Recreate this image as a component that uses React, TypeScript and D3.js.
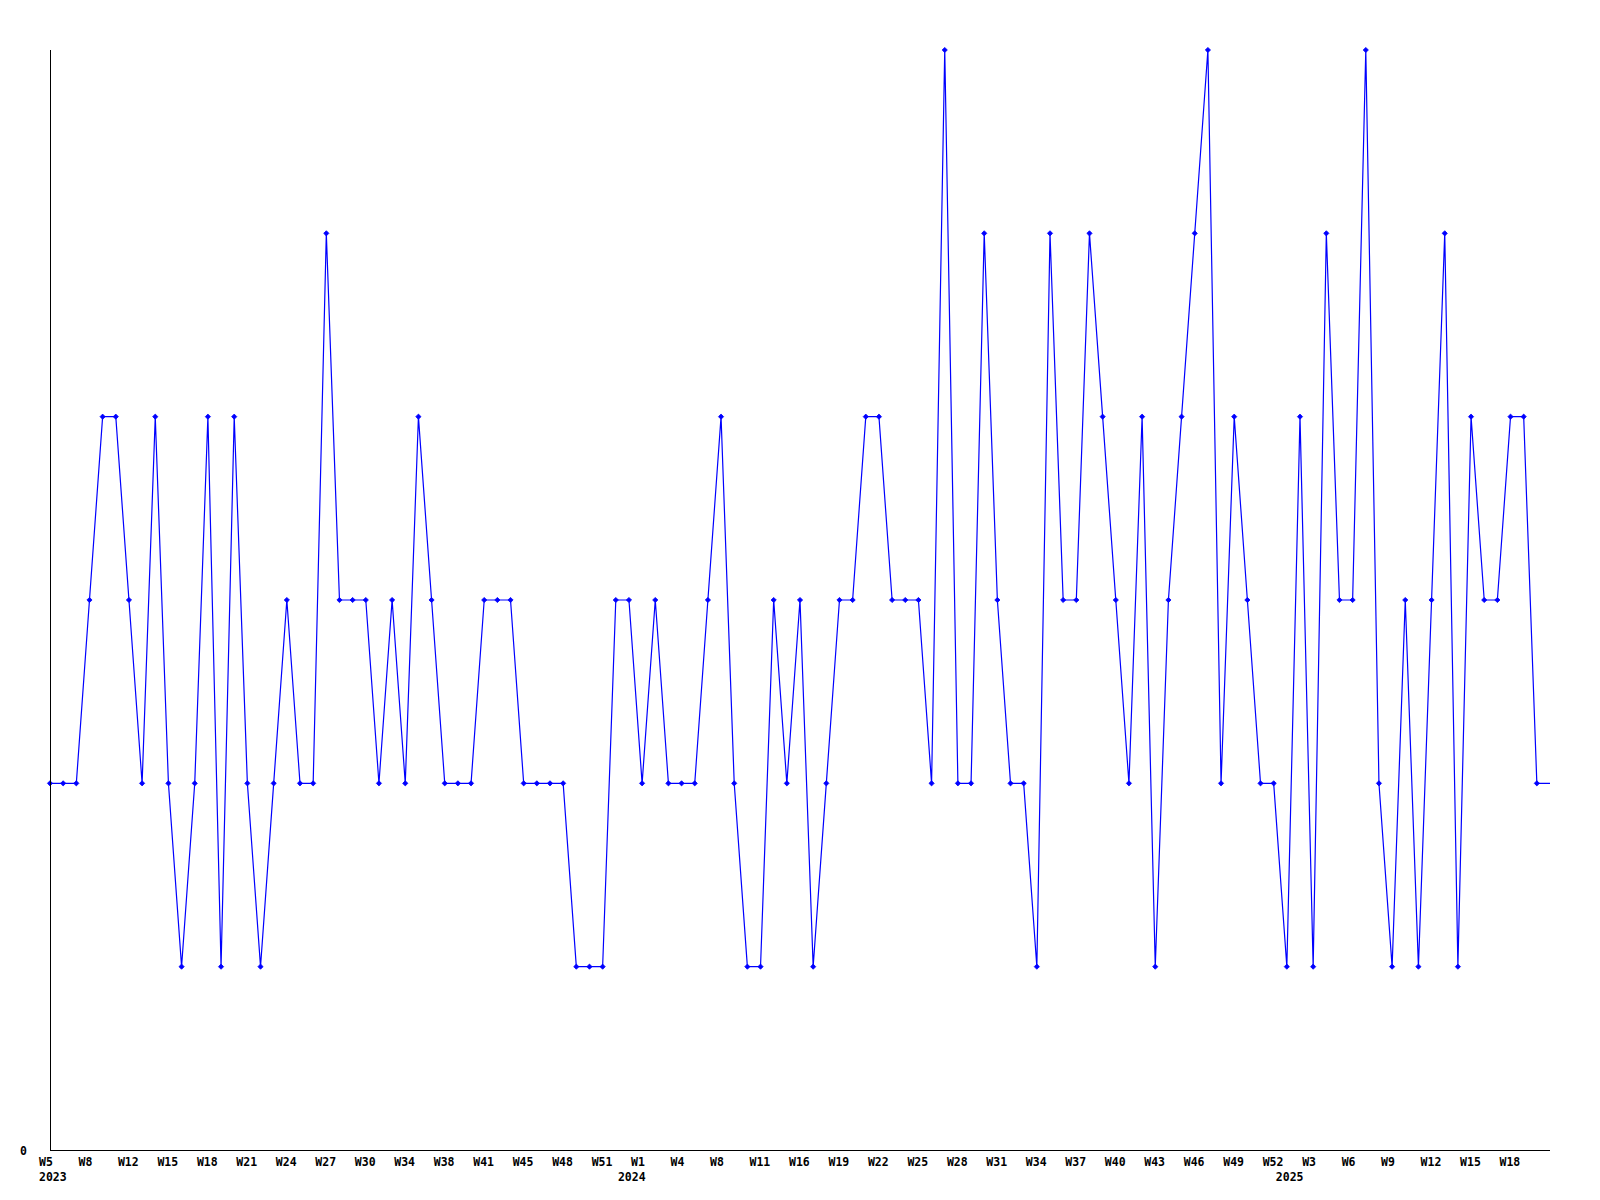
import React from "react";
import * as d3 from "d3";

const values: number[] = [
  2, 2, 2, 3, 4, 4, 3, 2, 4, 2,
  1, 2, 4, 1, 4, 2, 1, 2, 3, 2,
  2, 5, 3, 3, 3, 2, 3, 2, 4, 3,
  2, 2, 2, 3, 3, 3, 2, 2, 2, 2,
  1, 1, 1, 3, 3, 2, 3, 2, 2, 2,
  3, 4, 2, 1, 1, 3, 2, 3, 1, 2,
  3, 3, 4, 4, 3, 3, 3, 2, 6, 2,
  2, 5, 3, 2, 2, 1, 5, 3, 3, 5,
  4, 3, 2, 4, 1, 3, 4, 5, 6, 2,
  4, 3, 2, 2, 1, 4, 1, 5, 3, 3,
  6, 2, 1, 3, 1, 3, 5, 1, 4, 3,
  3, 4, 4, 2,
];

const weekTicks: string[] = [
  "W5", "W8", "W12", "W15", "W18", "W21", "W24", "W27", "W30", "W34",
  "W38", "W41", "W45", "W48", "W51", "W1", "W4", "W8", "W11", "W16",
  "W19", "W22", "W25", "W28", "W31", "W34", "W37", "W40", "W43", "W46",
  "W49", "W52", "W3", "W6", "W9", "W12", "W15", "W18",
];
const tickEvery = 3;

const yearLabels: string[] = ["2023", "2024", "2025"];
const yearIndex: number[] = [0, 44, 94];

const yMax = 6;
const yTickLabels: number[] = [0];

const W = 1600;
const H = 1200;
const margin = { left: 50, right: 50, top: 50, bottom: 50 };

const FONT = "'DejaVu Sans Mono', monospace";

export default function App() {
  const n = values.length;
  const x = d3.scaleLinear().domain([0, n]).range([margin.left, W - margin.right]);
  const y = d3.scaleLinear().domain([0, yMax]).range([H - margin.bottom, margin.top]);

  const pts: [number, number][] = values.map((v, i) => [i, v]);
  const extended: [number, number][] = [...pts, [n, values[n - 1]]];
  const line = d3
    .line<[number, number]>()
    .x((d) => x(d[0]))
    .y((d) => y(d[1]));

  const x0 = x(0);
  const y0 = y(0);

  return (
    <svg
      width={W}
      height={H}
      style={{ position: "absolute", left: 0, top: 0, background: "#fff" }}
    >
      <rect x={0} y={0} width={W} height={H} fill="#fff" />
      <path d={line(extended) || ""} fill="none" stroke="#0000ff" strokeWidth={1.2} />
      {pts.map(([i, v]) => {
        const cx = x(i);
        const cy = y(v);
        const r = 2.6;
        return (
          <path
            key={i}
            d={`M${cx - r},${cy}L${cx},${cy - r}L${cx + r},${cy}L${cx},${cy + r}Z`}
            fill="#0000ff"
            stroke="#0000ff"
            strokeWidth={0.8}
          />
        );
      })}
      <line
        x1={x0}
        x2={x0}
        y1={y(yMax)}
        y2={y0}
        stroke="#000"
        strokeWidth={1}
        shapeRendering="crispEdges"
      />
      <line
        x1={x0}
        x2={x(n)}
        y1={y0}
        y2={y0}
        stroke="#000"
        strokeWidth={1}
        shapeRendering="crispEdges"
      />
      {yTickLabels.map((t) => (
        <text
          key={t}
          x={x0 - 23}
          y={y(t) + 5}
          textAnchor="end"
          fontFamily={FONT}
          fontWeight="bold"
          fontSize={11.5}
          fill="#000"
        >
          {t}
        </text>
      ))}
      {weekTicks.map((lab, k) => (
        <text
          key={k}
          x={x(k * tickEvery) - 11}
          y={y0 + 16}
          textAnchor="start"
          fontFamily={FONT}
          fontWeight="bold"
          fontSize={11.5}
          fill="#000"
        >
          {lab}
        </text>
      ))}
      {yearLabels.map((lab, k) => (
        <text
          key={lab}
          x={x(yearIndex[k]) - 11}
          y={y0 + 31}
          textAnchor="start"
          fontFamily={FONT}
          fontWeight="bold"
          fontSize={11.5}
          fill="#000"
        >
          {lab}
        </text>
      ))}
    </svg>
  );
}
